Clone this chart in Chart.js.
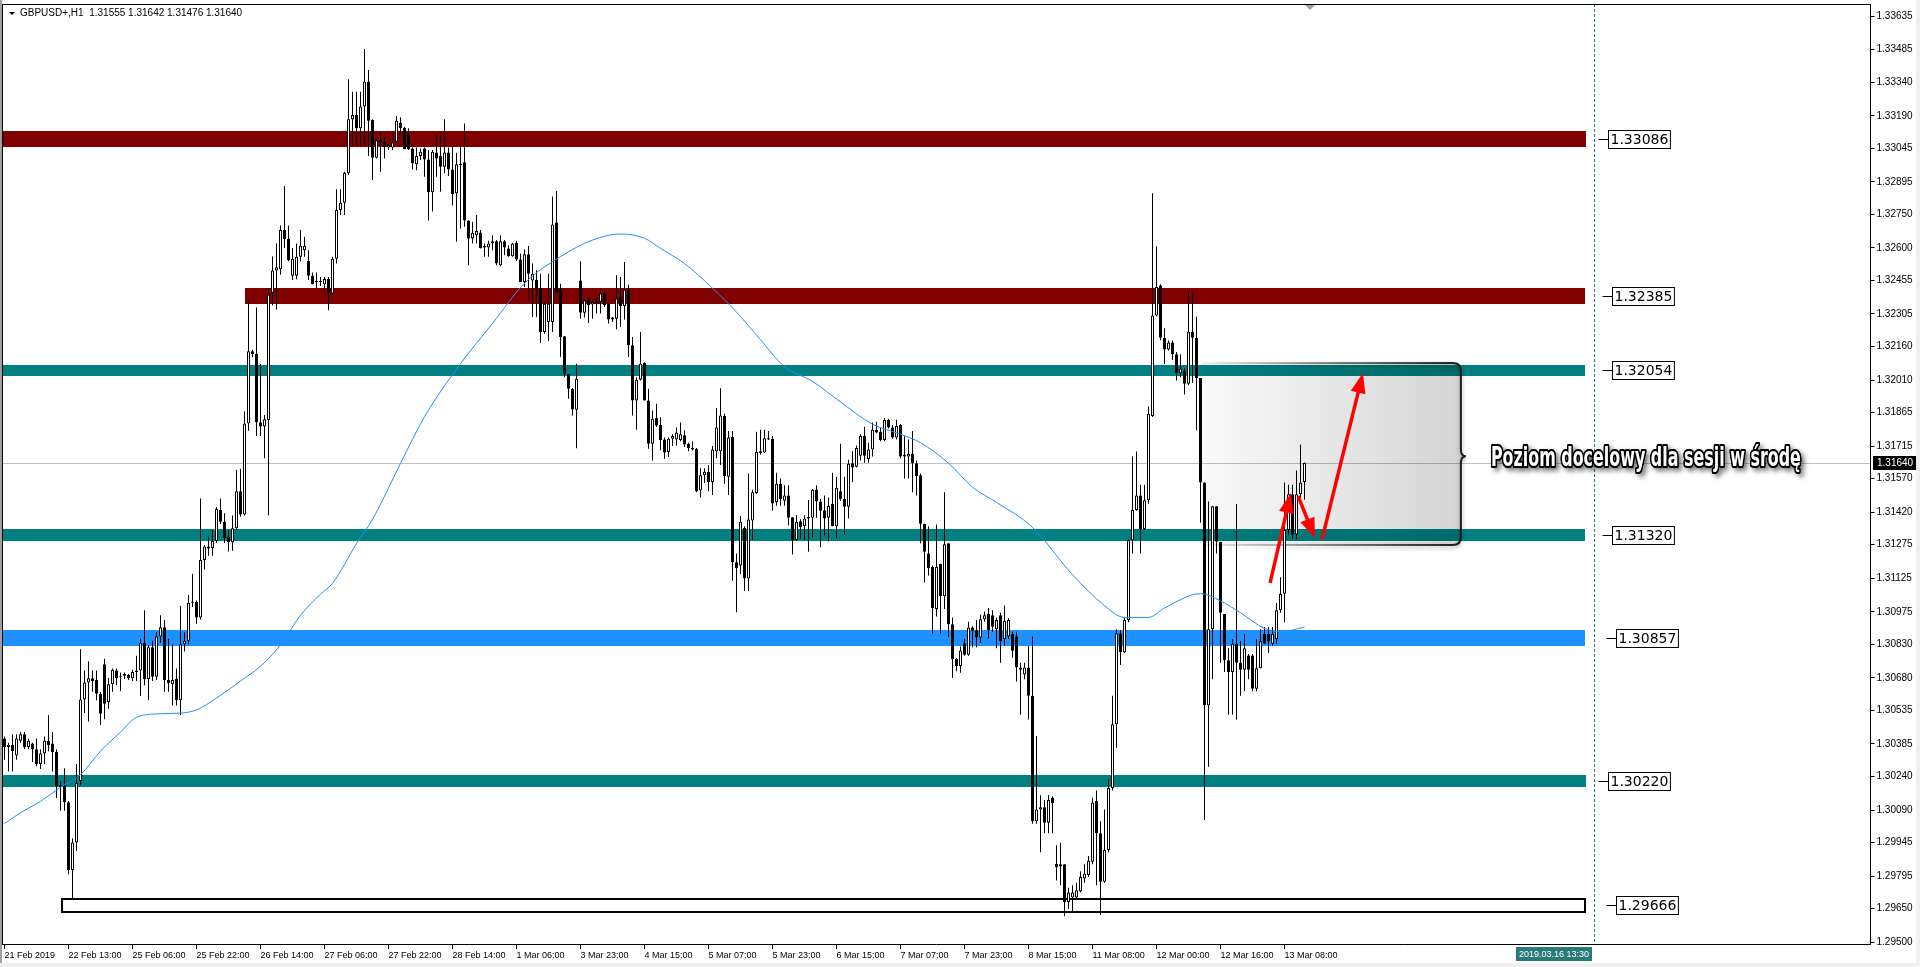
<!DOCTYPE html>
<html><head><meta charset="utf-8">
<script src="https://cdn.jsdelivr.net/npm/chart.js@4.4.0/dist/chart.umd.min.js"></script>
<style>html,body{margin:0;padding:0;background:#fff;overflow:hidden}canvas{display:block}</style>
</head><body>
<canvas id="c" width="1920" height="967"></canvas>
<script>
// ---------------- DATA ----------------
const tickLabels = ['21 Feb 2019','22 Feb 13:00','25 Feb 06:00','25 Feb 22:00','26 Feb 14:00','27 Feb 06:00','27 Feb 22:00','28 Feb 14:00','1 Mar 06:00','3 Mar 23:00','4 Mar 15:00','5 Mar 07:00','5 Mar 23:00','6 Mar 15:00','7 Mar 07:00','7 Mar 23:00','8 Mar 15:00','11 Mar 08:00','12 Mar 00:00','12 Mar 16:00','13 Mar 08:00'];
const yTickValues = [1.33635,1.33485,1.33340,1.33190,1.33045,1.32895,1.32750,1.32600,1.32455,1.32305,1.32160,1.32010,1.31865,1.31715,1.31570,1.31420,1.31275,1.31125,1.30975,1.30830,1.30680,1.30535,1.30385,1.30240,1.30090,1.29945,1.29795,1.29650,1.29500];
const opens = [1.30410,1.30372,1.30380,1.30334,1.30400,1.30429,1.30372,1.30387,1.30362,1.30296,
1.30343,1.30400,1.30387,1.30349,1.30192,1.30201,1.30125,1.29822,1.29945,1.30220,
1.30584,1.30660,1.30679,1.30672,1.30609,1.30741,1.30571,1.30652,1.30713,1.30685,
1.30690,1.30694,1.30679,1.30707,1.30713,1.30836,1.30675,1.30817,1.30685,1.30865,
1.30906,1.30671,1.30652,1.30675,1.30580,1.30830,1.30846,1.31016,1.31020,1.30950,
1.31206,1.31258,1.31260,1.31291,1.31430,1.31377,1.31310,1.31286,1.31348,1.31513,
1.31410,1.31816,1.32139,1.32126,1.31822,1.31803,1.31832,1.32400,1.32499,1.32505,
1.32680,1.32640,1.32476,1.32476,1.32560,1.32590,1.32543,1.32476,1.32450,1.32448,
1.32438,1.32461,1.32396,1.32552,1.32769,1.32802,1.32933,1.33174,1.33193,1.33134,
1.33231,1.33342,1.33171,1.33002,1.33081,1.33074,1.33048,1.33048,1.33074,1.33159,
1.33137,1.33108,1.33044,1.32973,1.33010,1.33044,1.32995,1.32848,1.33026,1.33010,
1.32962,1.33026,1.32950,1.32844,1.32970,1.32982,1.32722,1.32642,1.32657,1.32669,
1.32608,1.32602,1.32620,1.32630,1.32522,1.32630,1.32597,1.32563,1.32623,1.32548,
1.32448,1.32572,1.32455,1.32458,1.32418,1.32225,1.32269,1.32269,1.32713,1.32413,
1.32205,1.32038,1.31971,1.31877,1.32455,1.32310,1.32369,1.32347,1.32363,1.32359,
1.32399,1.32351,1.32289,1.32284,1.32381,1.32339,1.32413,1.32165,1.31919,1.32011,
1.32086,1.31919,1.31726,1.31840,1.31809,1.31745,1.31689,1.31748,1.31745,1.31742,
1.31763,1.31726,1.31707,1.31703,1.31517,1.31585,1.31600,1.31555,1.31692,1.31692,
1.31849,1.31578,1.31756,1.31197,1.31182,1.31350,1.31124,1.31383,1.31506,1.31684,
1.31687,1.31745,1.31748,1.31464,1.31547,1.31471,1.31494,1.31397,1.31296,1.31380,
1.31357,1.31392,1.31395,1.31520,1.31468,1.31429,1.31395,1.31456,1.31357,1.31514,
1.31479,1.31444,1.31639,1.31623,1.31672,1.31760,1.31657,1.31700,1.31788,1.31779,
1.31742,1.31832,1.31798,1.31753,1.31809,1.31677,1.31669,1.31681,1.31639,1.31585,
1.31368,1.31235,1.31175,1.30988,1.31190,1.31045,1.31281,1.30920,1.30764,1.30733,
1.30835,1.30783,1.30905,1.30893,1.30860,1.30942,1.30965,1.30960,1.30897,1.30960,
1.30854,1.30865,1.30876,1.30865,1.30727,1.30695,1.30727,1.30600,1.30040,1.30092,
1.30103,1.30033,1.30145,1.29850,1.29848,1.29848,1.29680,1.29700,1.29700,1.29727,
1.29785,1.29800,1.29859,1.30130,1.29986,1.29770,1.29912,1.30188,1.30473,1.30880,
1.30795,1.30939,1.31295,1.31430,1.31494,1.31345,1.31473,1.31849,1.32298,1.32432,
1.32199,1.32146,1.32178,1.32125,1.32040,1.32050,1.31994,1.32226,1.32199,1.32019,
1.31553,1.30558,1.30897,1.31447,1.31288,1.30965,1.30759,1.30706,1.30833,1.30748,
1.30717,1.30780,1.30780,1.30632,1.30723,1.30876,1.30876,1.30833,1.30854,1.30982,
1.31056,1.31341,1.31500,1.31320,1.31500,1.31555];
const highs = [1.30419,1.30391,1.30428,1.30429,1.30438,1.30438,1.30410,1.30391,1.30410,1.30362,
1.30419,1.30514,1.30438,1.30362,1.30220,1.30277,1.30130,1.29964,1.30296,1.30808,
1.30713,1.30755,1.30713,1.30713,1.30618,1.30766,1.30680,1.30722,1.30722,1.30704,
1.30704,1.30698,1.30717,1.30779,1.30855,1.30982,1.30827,1.30846,1.30884,1.30960,
1.30940,1.30855,1.30830,1.30722,1.31001,1.30884,1.31050,1.31145,1.31026,1.31481,
1.31272,1.31310,1.31339,1.31443,1.31481,1.31415,1.31339,1.31405,1.31608,1.31614,
1.31870,1.32366,1.32145,1.32334,1.32082,1.31854,1.32419,1.32562,1.32620,1.32700,
1.32876,1.32700,1.32600,1.32620,1.32680,1.32650,1.32590,1.32490,1.32490,1.32470,
1.32470,1.32470,1.32560,1.32862,1.32862,1.32940,1.33353,1.33297,1.33297,1.33297,
1.33488,1.33394,1.33174,1.33089,1.33111,1.33096,1.33066,1.33111,1.33189,1.33183,
1.33141,1.33134,1.33048,1.33048,1.33044,1.33048,1.33037,1.33037,1.33104,1.33108,
1.33174,1.33048,1.33051,1.33025,1.33063,1.33156,1.32722,1.32717,1.32747,1.32680,
1.32620,1.32632,1.32657,1.32635,1.32657,1.32635,1.32612,1.32623,1.32632,1.32575,
1.32593,1.32608,1.32530,1.32500,1.32485,1.32359,1.32485,1.32829,1.32854,1.32440,
1.32205,1.32038,1.31974,1.32083,1.32540,1.32369,1.32381,1.32363,1.32374,1.32410,
1.32403,1.32354,1.32292,1.32478,1.32470,1.32537,1.32437,1.32202,1.32023,1.32225,
1.32090,1.31971,1.31874,1.31904,1.31844,1.31753,1.31753,1.31768,1.31798,1.31821,
1.31786,1.31730,1.31737,1.31707,1.31616,1.31616,1.31631,1.31715,1.31885,1.31973,
1.31860,1.31783,1.31783,1.31235,1.31403,1.31357,1.31593,1.31520,1.31779,1.31788,
1.31788,1.31783,1.31760,1.31596,1.31570,1.31540,1.31540,1.31397,1.31407,1.31388,
1.31406,1.31474,1.31524,1.31540,1.31479,1.31494,1.31486,1.31596,1.31578,1.31726,
1.31578,1.31654,1.31692,1.31718,1.31768,1.31801,1.31730,1.31821,1.31824,1.31798,
1.31840,1.31836,1.31809,1.31833,1.31814,1.31760,1.31745,1.31783,1.31651,1.31593,
1.31368,1.31357,1.31182,1.31365,1.31190,1.31509,1.31281,1.30950,1.30768,1.30820,
1.30855,1.30931,1.30911,1.30939,1.30962,1.30977,1.30992,1.30982,1.30950,1.30971,
1.31003,1.30946,1.30886,1.30886,1.30748,1.30748,1.30823,1.30865,1.30421,1.30156,
1.30135,1.30156,1.30152,1.29933,1.29944,1.29848,1.29743,1.29754,1.29765,1.29817,
1.29848,1.29885,1.30145,1.30177,1.30040,1.30092,1.30230,1.30600,1.30897,1.30893,
1.30950,1.31299,1.31670,1.31691,1.31543,1.31543,1.31892,1.32844,1.32607,1.32438,
1.32241,1.32188,1.32188,1.32135,1.32125,1.32061,1.32400,1.32400,1.32294,1.32019,
1.31553,1.31468,1.31447,1.31447,1.31288,1.30965,1.30812,1.30854,1.31457,1.30844,
1.30876,1.30787,1.30787,1.30854,1.30897,1.30907,1.30907,1.30907,1.31014,1.31130,
1.31553,1.31543,1.31543,1.31606,1.31722,1.31642];
const lows = [1.30315,1.30262,1.30262,1.30315,1.30391,1.30363,1.30362,1.30305,1.30286,1.30273,
1.30296,1.30353,1.30262,1.30144,1.30087,1.30087,1.29803,1.29693,1.29907,1.30201,
1.30523,1.30485,1.30618,1.30580,1.30470,1.30495,1.30542,1.30618,1.30647,1.30622,
1.30675,1.30671,1.30666,1.30666,1.30599,1.30647,1.30580,1.30666,1.30671,1.30836,
1.30618,1.30618,1.30557,1.30557,1.30514,1.30798,1.30830,1.30997,1.30922,1.30940,
1.31164,1.31225,1.31225,1.31282,1.31367,1.31282,1.31244,1.31248,1.31339,1.31400,
1.31405,1.31784,1.32112,1.31760,1.31760,1.31661,1.31405,1.32343,1.32325,1.32480,
1.32600,1.32540,1.32457,1.32460,1.32540,1.32560,1.32457,1.32438,1.32420,1.32430,
1.32420,1.32322,1.32390,1.32530,1.32747,1.32747,1.32925,1.33059,1.33059,1.33059,
1.33059,1.33010,1.32903,1.32999,1.32940,1.32999,1.33037,1.33037,1.33069,1.33111,
1.33040,1.33037,1.32950,1.32947,1.32992,1.32918,1.32722,1.32762,1.32918,1.32851,
1.32933,1.32921,1.32789,1.32627,1.32687,1.32695,1.32522,1.32620,1.32620,1.32597,
1.32560,1.32560,1.32590,1.32522,1.32518,1.32567,1.32560,1.32560,1.32542,1.32448,
1.32425,1.32363,1.32292,1.32292,1.32175,1.32217,1.32184,1.32225,1.32396,1.32113,
1.32023,1.31926,1.31852,1.31706,1.32284,1.32289,1.32265,1.32284,1.32307,1.32307,
1.32336,1.32262,1.32269,1.32237,1.32247,1.32280,1.32113,1.31852,1.31788,1.32008,
1.31919,1.31703,1.31651,1.31800,1.31696,1.31657,1.31666,1.31715,1.31718,1.31737,
1.31711,1.31692,1.31695,1.31509,1.31486,1.31550,1.31514,1.31497,1.31661,1.31631,
1.31547,1.31497,1.31114,1.30973,1.31144,1.31068,1.31068,1.31296,1.31502,1.31677,
1.31684,1.31742,1.31426,1.31449,1.31449,1.31449,1.31360,1.31231,1.31292,1.31301,
1.31296,1.31243,1.31307,1.31395,1.31263,1.31316,1.31289,1.31357,1.31307,1.31471,
1.31319,1.31392,1.31555,1.31620,1.31651,1.31641,1.31641,1.31669,1.31773,1.31737,
1.31737,1.31794,1.31748,1.31745,1.31661,1.31570,1.31570,1.31509,1.31494,1.31281,
1.31106,1.31137,1.30878,1.30954,1.30878,1.30988,1.30863,1.30680,1.30710,1.30703,
1.30779,1.30779,1.30817,1.30817,1.30836,1.30931,1.30855,1.30886,1.30812,1.30748,
1.30823,1.30854,1.30770,1.30664,1.30516,1.30674,1.30494,1.30029,1.30029,1.29902,
1.29986,1.29986,1.29986,1.29775,1.29754,1.29616,1.29648,1.29637,1.29690,1.29722,
1.29765,1.29791,1.29848,1.29754,1.29622,1.29765,1.29902,1.30177,1.30368,1.30738,
1.30791,1.30929,1.31236,1.31426,1.31236,1.31341,1.31458,1.31845,1.32294,1.32188,
1.32082,1.32142,1.32099,1.32008,1.32023,1.31945,1.31987,1.31998,1.31786,1.31373,
1.30046,1.30283,1.30674,1.31236,1.30748,1.30706,1.30516,1.30516,1.30494,1.30600,
1.30621,1.30674,1.30621,1.30621,1.30723,1.30833,1.30791,1.30823,1.30833,1.30971,
1.30929,1.31320,1.31303,1.31299,1.31468,1.31476];
const closes = [1.30372,1.30382,1.30353,1.30410,1.30429,1.30372,1.30400,1.30362,1.30296,1.30343,
1.30400,1.30381,1.30349,1.30197,1.30201,1.30125,1.29822,1.29945,1.30211,1.30584,
1.30660,1.30679,1.30666,1.30609,1.30520,1.30565,1.30652,1.30717,1.30679,1.30690,
1.30698,1.30679,1.30707,1.30713,1.30836,1.30675,1.30817,1.30685,1.30865,1.30906,
1.30671,1.30656,1.30671,1.30580,1.30830,1.30846,1.31016,1.31020,1.30950,1.31206,
1.31267,1.31267,1.31291,1.31434,1.31377,1.31305,1.31286,1.31348,1.31513,1.31410,
1.31816,1.32139,1.32126,1.31822,1.31803,1.31835,1.32391,1.32499,1.32514,1.32680,
1.32640,1.32545,1.32552,1.32560,1.32610,1.32610,1.32476,1.32438,1.32448,1.32452,
1.32461,1.32400,1.32552,1.32769,1.32802,1.32936,1.33174,1.33193,1.33134,1.33231,
1.33342,1.33168,1.33002,1.33081,1.33071,1.33051,1.33059,1.33071,1.33168,1.33134,
1.33040,1.33040,1.32977,1.33011,1.33029,1.32995,1.32848,1.33029,1.32999,1.32962,
1.33026,1.32950,1.32841,1.32974,1.32974,1.32722,1.32642,1.32668,1.32675,1.32600,
1.32602,1.32620,1.32630,1.32530,1.32630,1.32602,1.32563,1.32620,1.32548,1.32448,
1.32572,1.32485,1.32485,1.32413,1.32225,1.32351,1.32351,1.32705,1.32403,1.32202,
1.32038,1.31971,1.31879,1.32016,1.32310,1.32366,1.32344,1.32359,1.32354,1.32396,
1.32344,1.32280,1.32280,1.32374,1.32339,1.32413,1.32165,1.31919,1.32011,1.32083,
1.31919,1.31726,1.31837,1.31807,1.31742,1.31687,1.31748,1.31760,1.31776,1.31768,
1.31722,1.31707,1.31700,1.31514,1.31585,1.31600,1.31555,1.31700,1.31798,1.31852,
1.31581,1.31753,1.31197,1.31170,1.31377,1.31124,1.31387,1.31509,1.31689,1.31692,
1.31750,1.31750,1.31459,1.31547,1.31479,1.31494,1.31395,1.31296,1.31377,1.31353,
1.31392,1.31398,1.31520,1.31468,1.31426,1.31392,1.31448,1.31357,1.31529,1.31479,
1.31444,1.31636,1.31620,1.31707,1.31760,1.31672,1.31700,1.31788,1.31776,1.31742,
1.31832,1.31798,1.31753,1.31806,1.31669,1.31669,1.31681,1.31639,1.31581,1.31368,
1.31243,1.31170,1.30992,1.31175,1.31045,1.31277,1.30920,1.30764,1.30733,1.30802,
1.30783,1.30905,1.30890,1.30860,1.30942,1.30960,1.30893,1.30908,1.30939,1.30844,
1.30935,1.30939,1.30801,1.30727,1.30717,1.30727,1.30600,1.30040,1.30092,1.30103,
1.30033,1.30135,1.30120,1.29836,1.29838,1.29680,1.29722,1.29722,1.29732,1.29791,
1.29806,1.29864,1.30124,1.29986,1.29770,1.29912,1.30188,1.30473,1.30880,1.30795,
1.30939,1.31295,1.31430,1.31494,1.31345,1.31473,1.31860,1.32298,1.32425,1.32199,
1.32146,1.32178,1.32125,1.32040,1.32061,1.31994,1.32226,1.32199,1.32019,1.31553,
1.30558,1.30897,1.31447,1.31288,1.30971,1.30759,1.30706,1.30833,1.30748,1.30717,
1.30812,1.30717,1.30632,1.30723,1.30844,1.30833,1.30844,1.30876,1.30982,1.31056,
1.31341,1.31500,1.31320,1.31500,1.31553,1.31640];
const maBars = [0,4,9,14,19,24,29,33,39,44,48,53,59,64,69,74,79,82,88,92,99,105,114,122,130,139,147,154,160,164,170,177,183,189,195,202,209,217,224,229,236,242,248,257,267,275,280,286,290,299,304,309,315,319,325];
const maValues = [1.30030,1.30078,1.30129,1.30192,1.30248,1.30353,1.30438,1.30504,1.30520,1.30523,1.30537,1.30590,1.30666,1.30732,1.30827,1.30960,1.31054,1.31102,1.31280,1.31388,1.31638,1.31846,1.32083,1.32263,1.32442,1.32561,1.32635,1.32662,1.32643,1.32598,1.32530,1.32420,1.32313,1.32190,1.32070,1.32004,1.31912,1.31813,1.31768,1.31730,1.31639,1.31532,1.31464,1.31352,1.31141,1.31003,1.30950,1.30950,1.30992,1.31056,1.31024,1.30971,1.30901,1.30886,1.30907];
const levelValues = [1.33086,1.32385,1.32054,1.31320,1.30857,1.30220,1.29666];
const currentPrice = 1.31640;
const titleText = 'GBPUSD+,H1  1.31555 1.31642 1.31476 1.31640';
const noteText = 'Poziom docelowy dla sesji w środę';
const vlineText = '2019.03.16 13:30';

// ---------------- ANNOTATION PLACEMENT / STYLE (bar index, price) ----------------
const bandStyles = [
  {color:'#800000', from:-0.5, to:395.4, h:16, lab:400.9},
  {color:'#800000', from:60.1, to:395.0, h:16, lab:401.9},
  {color:'#008080', from:-0.5, to:395.0, h:11, lab:401.9},
  {color:'#008080', from:-0.5, to:395.0, h:12, lab:401.9},
  {color:'#1E90FF', from:-0.5, to:395.0, h:16, lab:402.9},
  {color:'#008080', from:-0.5, to:395.4, h:12, lab:400.9},
  {outline:true,    from:14.1, to:395.4, h:15, lab:402.9}
];
const noteBox = {x0:299.4, x1:364.1, top:1.32086, bottom:1.31273, mid:1.31670};
const noteAnchor = {x:371.6, y:1.31626, width:310};
const arrows = [
  {from:[316.4,1.31104], to:[321.6,1.31506]},
  {from:[323.4,1.31492], to:[327.6,1.31304]},
  {from:[329.4,1.31300], to:[339.6,1.32041]}
];
const vlineBar = 397.25;
const N_SLOTS = 467;

// ---------------- BUILD ----------------
const slotLabels = Array.from({length:N_SLOTS}, (_, i) => (i % 16 === 0 && i / 16 < tickLabels.length) ? tickLabels[i / 16] : '');
const wickData = lows.map((l, i) => [l, highs[i]]);
const bodyData = opens.map((o, i) => [o, closes[i]]);
const bodyFill = opens.map((o, i) => closes[i] >= o ? '#ffffff' : '#000000');
const maData = new Array(opens.length).fill(null);
maBars.forEach((b, k) => { maData[b] = maValues[k]; });

const FONT = '"Liberation Sans", Arial, sans-serif';

function drawArrow(c, x0, y0, x1, y1) {
  const ang = Math.atan2(y1 - y0, x1 - x0), hl = 20, hw = 7.5;
  const bx = x1 - hl * Math.cos(ang), by = y1 - hl * Math.sin(ang);
  c.strokeStyle = '#ff0000'; c.lineWidth = 3.5; c.lineCap = 'butt';
  c.beginPath(); c.moveTo(x0, y0); c.lineTo(bx + 2 * Math.cos(ang), by + 2 * Math.sin(ang)); c.stroke();
  c.fillStyle = '#ff0000'; c.beginPath(); c.moveTo(x1, y1);
  c.lineTo(bx + hw * Math.sin(ang), by - hw * Math.cos(ang));
  c.lineTo(bx - hw * Math.sin(ang), by + hw * Math.cos(ang));
  c.closePath(); c.fill();
}

const decor = {
  id: 'decor',
  beforeDraw(chart) {
    const c = chart.ctx;
    c.save(); c.fillStyle = '#ffffff'; c.fillRect(0, 0, chart.width, chart.height); c.restore();
  },
  beforeDatasetsDraw(chart) {
    const c = chart.ctx, a = chart.chartArea;
    const X = v => chart.scales.x.getPixelForValue(v), Y = v => chart.scales.y.getPixelForValue(v);
    c.save();
    c.beginPath(); c.rect(a.left, a.top, a.right - a.left, a.bottom - a.top); c.clip();
    const yc = Math.round(Y(currentPrice)) + 0.5;
    c.strokeStyle = '#c0c0c0'; c.lineWidth = 1;
    c.beginPath(); c.moveTo(a.left, yc); c.lineTo(a.right, yc); c.stroke();
    const xv = Math.round(X(vlineBar)) + 0.5;
    c.strokeStyle = '#2f7a7a'; c.setLineDash([3, 2]);
    c.beginPath(); c.moveTo(xv, a.top); c.lineTo(xv, a.bottom); c.stroke();
    c.setLineDash([]);
    levelValues.forEach((lv, j) => {
      const s = bandStyles[j], yy = Math.round(Y(lv) - s.h / 2);
      const x0 = Math.round(X(s.from)), x1 = Math.round(X(s.to));
      if (s.outline) {
        c.fillStyle = '#ffffff'; c.fillRect(x0, yy, x1 - x0, s.h);
        c.strokeStyle = '#000000'; c.lineWidth = 2;
        c.strokeRect(x0 + 1, yy + 1, x1 - x0 - 2, s.h - 2);
      } else {
        c.fillStyle = s.color; c.fillRect(x0, yy, x1 - x0, s.h);
      }
    });
    const bx0 = X(noteBox.x0), bx1 = X(noteBox.x1), bt = Y(noteBox.top), bb = Y(noteBox.bottom), bm = Y(noteBox.mid), r = 8;
    const path = () => {
      c.beginPath();
      c.moveTo(bx0, bt); c.lineTo(bx1 - r, bt);
      c.quadraticCurveTo(bx1, bt, bx1, bt + r);
      c.lineTo(bx1, bm - 7); c.quadraticCurveTo(bx1, bm, bx1 + 5, bm);
      c.quadraticCurveTo(bx1, bm, bx1, bm + 7);
      c.lineTo(bx1, bb - r); c.quadraticCurveTo(bx1, bb, bx1 - r, bb);
      c.lineTo(bx0, bb);
    };
    const g = c.createLinearGradient(bx0, 0, bx1, 0);
    g.addColorStop(0, 'rgba(0,0,0,0.02)'); g.addColorStop(1, 'rgba(0,0,0,0.17)');
    path(); c.closePath(); c.fillStyle = g; c.fill();
    const gs = c.createLinearGradient(bx0, 0, bx1, 0);
    gs.addColorStop(0, 'rgba(40,40,40,0.05)'); gs.addColorStop(0.5, 'rgba(40,40,40,0.55)'); gs.addColorStop(1, 'rgba(20,20,20,0.95)');
    c.save();
    c.shadowColor = 'rgba(0,0,0,0.35)'; c.shadowBlur = 4; c.shadowOffsetY = 2;
    path(); c.strokeStyle = gs; c.lineWidth = 2; c.stroke();
    c.restore();
    c.restore();
  },
  afterDatasetsDraw(chart) {
    const c = chart.ctx;
    const X = v => chart.scales.x.getPixelForValue(v), Y = v => chart.scales.y.getPixelForValue(v);
    c.save();
    arrows.forEach(ar => drawArrow(c, X(ar.from[0]), Y(ar.from[1]), X(ar.to[0]), Y(ar.to[1])));
    c.font = 'bold 26px "Liberation Sans Narrow", "DejaVu Sans Condensed", "Liberation Sans", sans-serif';
    const w = c.measureText(noteText).width;
    const sx = noteAnchor.width / w;
    c.translate(X(noteAnchor.x), Y(noteAnchor.y));
    c.scale(sx, 1);
    c.lineJoin = 'round'; c.textBaseline = 'alphabetic'; c.textAlign = 'left';
    c.save();
    c.shadowColor = 'rgba(0,0,0,0.55)'; c.shadowBlur = 5; c.shadowOffsetX = 3; c.shadowOffsetY = 3;
    c.strokeStyle = '#000000'; c.lineWidth = 4; c.strokeText(noteText, 0, 0);
    c.restore();
    c.strokeStyle = '#000000'; c.lineWidth = 4; c.strokeText(noteText, 0, 0);
    c.fillStyle = '#ffffff'; c.fillText(noteText, 0, 0);
    c.restore();
    c.save();
    c.font = '14px "DejaVu Sans", sans-serif'; c.textBaseline = 'middle'; c.textAlign = 'left';
    levelValues.forEach((lv, j) => {
      const s = bandStyles[j];
      const txt = lv.toFixed(5);
      const yy = Math.round(Y(lv)) + 0.5;
      const bxL = Math.round(X(s.lab)) + 0.5;
      const tw = c.measureText(txt).width;
      c.strokeStyle = '#000'; c.lineWidth = 1;
      c.beginPath(); c.moveTo(bxL - 10, yy); c.lineTo(bxL, yy); c.stroke();
      c.fillStyle = '#ffffff'; c.fillRect(bxL, yy - 9, tw + 4, 18);
      c.strokeRect(bxL, yy - 9, tw + 4, 18);
      c.fillStyle = '#000000'; c.fillText(txt, bxL + 2, yy + 1);
    });
    c.restore();
  },
  afterDraw(chart) {
    const c = chart.ctx, a = chart.chartArea;
    const X = v => chart.scales.x.getPixelForValue(v), Y = v => chart.scales.y.getPixelForValue(v);
    c.save();
    c.fillStyle = '#a0a0a0'; c.fillRect(0, 0, 2, chart.height);
    c.fillStyle = '#f0f0f0'; c.fillRect(1916, 0, 4, chart.height); c.fillRect(0, 963, chart.width, 4);
    c.fillStyle = '#000000';
    c.fillRect(2, Math.floor(a.top), Math.ceil(a.right) - 2, 1);
    c.fillRect(2, Math.floor(a.top), 1, Math.ceil(a.bottom - a.top));
    c.beginPath(); c.moveTo(9, 12); c.lineTo(15, 12); c.lineTo(12, 15); c.closePath(); c.fill();
    c.font = '10px ' + FONT; c.textBaseline = 'alphabetic'; c.textAlign = 'left';
    c.fillText(titleText, 20, 16);
    const xs = Math.round(X(opens.length + 0.4));
    c.fillStyle = '#a0a0a0';
    c.beginPath(); c.moveTo(xs - 5, 5); c.lineTo(xs + 5, 5); c.lineTo(xs, 10); c.closePath(); c.fill();
    const yc = Math.round(Y(currentPrice));
    c.fillStyle = '#000000'; c.fillRect(Math.ceil(a.right) + 2, yc - 7, 43, 14);
    c.fillStyle = '#ffffff'; c.font = '10px ' + FONT; c.textBaseline = 'middle';
    c.fillText(currentPrice.toFixed(5), Math.ceil(a.right) + 6, yc);
    const xv = Math.round(X(vlineBar));
    c.font = '9px ' + FONT;
    const tw = c.measureText(vlineText).width;
    c.fillStyle = '#2a7a7a'; c.fillRect(xv - tw - 8, 947, tw + 6, 14);
    c.fillStyle = '#ffffff'; c.textBaseline = 'middle';
    c.fillText(vlineText, xv - tw - 5, 954.5);
    c.restore();
  }
};

new Chart(document.getElementById('c'), {
  type: 'bar',
  data: {
    labels: slotLabels,
    datasets: [
      {type:'line', data: maData, borderColor:'#1E90FF', borderWidth:1, pointRadius:0, spanGaps:true, cubicInterpolationMode:'monotone', order:1},
      {type:'bar', data: bodyData, backgroundColor: bodyFill, borderColor:'#000000', borderWidth:1, borderSkipped:false, barThickness:3, grouped:false, inflateAmount:0, minBarLength:1, order:2},
      {type:'bar', data: wickData, backgroundColor:'#000000', borderWidth:0, barThickness:1, grouped:false, inflateAmount:0, order:3}
    ]
  },
  options: {
    responsive: false,
    animation: false,
    devicePixelRatio: 1,
    layout: {padding: {left: 2.5, top: 4, right: 0, bottom: 0}},
    plugins: {legend: {display: false}, tooltip: {enabled: false}},
    events: [],
    scales: {
      x: {
        type: 'category', offset: true,
        grid: {display: true, drawOnChartArea: false, drawTicks: true, tickLength: 5, color: '#000000', offset: false},
        border: {display: true, color: '#000000'},
        ticks: {autoSkip: false, maxRotation: 0, minRotation: 0, align: 'start', padding: 1, color: '#000000', font: {family: FONT, size: 9}},
        afterBuildTicks: s => { s.ticks = s.ticks.filter(t => slotLabels[t.value] !== ''); },
        afterFit: s => { s.height = 23; s.paddingLeft = 0; s.paddingRight = 0; }
      },
      y: {
        position: 'right', min: 1.29492, max: 1.33689,
        grid: {display: true, drawOnChartArea: false, drawTicks: true, tickLength: 4, color: '#000000'},
        border: {display: true, color: '#000000'},
        ticks: {autoSkip: false, padding: 2, color: '#000000', font: {family: FONT, size: 10}, callback: v => Number(v).toFixed(5)},
        afterBuildTicks: s => { s.ticks = yTickValues.map(v => ({value: v})); },
        afterFit: s => { s.width = 49.5; s.paddingTop = 0; s.paddingBottom = 0; }
      }
    }
  },
  plugins: [decor]
});
</script>
</body></html>
